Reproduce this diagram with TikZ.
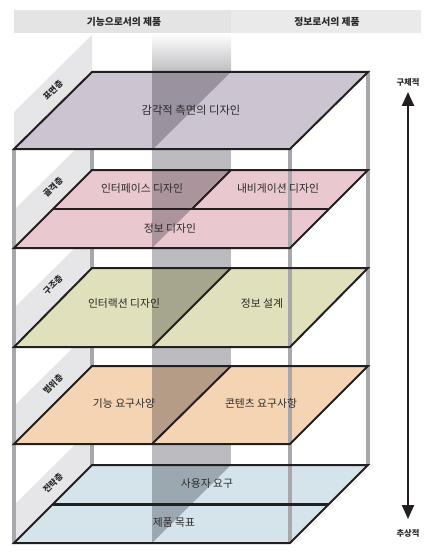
\documentclass[tikz,border=0pt]{standalone}
\usepackage{fontspec}
\setmainfont{Noto Sans CJK KR}
\usetikzlibrary{arrows.meta}
\definecolor{hdrL}{HTML}{E4E4E4}
\definecolor{hdrR}{HTML}{EAEAEA}
\definecolor{colG}{HTML}{BCBCC0}
\definecolor{bandG}{HTML}{E6E6E8}
\definecolor{postG}{HTML}{A8A8AC}
\definecolor{edge}{HTML}{231F20}
\definecolor{txt}{HTML}{2A2A2A}
\definecolor{surf}{HTML}{CDC4D2}
\definecolor{surfD}{HTML}{9A929F}
\definecolor{skel}{HTML}{E9C9CF}
\definecolor{skelD}{HTML}{AC949C}
\definecolor{stru}{HTML}{E1E0BD}
\definecolor{struD}{HTML}{A6A58E}
\definecolor{scop}{HTML}{F4D4B2}
\definecolor{scopD}{HTML}{B49C86}
\definecolor{stra}{HTML}{D4E4EA}
\definecolor{straD}{HTML}{9CA8B0}
\tikzset{
  outline/.style={draw=edge, line width=2pt, line join=miter},
  post/.style={draw=postG, line width=4.5pt},
  lbl/.style={font=\fontsize{10.8}{12}\selectfont, text=txt, inner sep=0pt},
  hdr/.style={font=\fontsize{9.8}{11}\selectfont\bfseries, text=txt, inner sep=0pt},
  layerlbl/.style={font=\fontsize{8.5}{9}\selectfont\bfseries, text=txt, inner sep=0pt, rotate=45},
  sidelbl/.style={font=\fontsize{8.3}{9}\selectfont\bfseries, text=txt, inner sep=0pt},
}
\begin{document}
\begin{tikzpicture}[x=1pt,y=-1pt]
\useasboundingbox (0,0) rectangle (430,559);
\fill[white] (0,0) rectangle (430,559);
% column
\shade[top color=white, bottom color=colG] (152,33) rectangle (231,73);
\fill[colG] (152,72) rectangle (231,543);
% header
\fill[hdrL] (14,10) rectangle (231,33);
\fill[hdrR] (231,10) rectangle (421,33);
\node[hdr] (h1) at (124,22) {기능으로서의 제품};
\node[hdr] (h2) at (327,22) {정보로서의 제품};
% label bands
\foreach \T in {72,170,268,366,465}{
  \fill[bandG] (92,\T-37) -- (92,\T) -- (14,\T+77) -- (14,\T+40) -- cycle;
}
% back posts
\draw[post] (92,72) -- (92,465);
\draw[post] (368,72) -- (368,465);
% planes fills
\fill[surf] (14,149) -- (290,149) -- (368,72) -- (92,72) -- cycle;
\fill[surfD] (152,72) -- (231,72) -- (152,150) -- cycle;
\fill[skel] (14,248) -- (290,248) -- (368,170) -- (92,170) -- cycle;
\fill[skelD] (152,170) -- (231,170) -- (152,248) -- cycle;
\fill[stru] (14,347) -- (290,347) -- (368,268) -- (92,268) -- cycle;
\fill[struD] (152,268) -- (231,268) -- (152,347) -- cycle;
\fill[scop] (14,444) -- (290,444) -- (368,366) -- (92,366) -- cycle;
\fill[scopD] (152,366) -- (231,366) -- (152,444) -- cycle;
\fill[stra] (14,543) -- (290,543) -- (368,465) -- (92,465) -- cycle;
\fill[straD] (152,465) -- (231,465) -- (152,543) -- cycle;
% front posts
\draw[post] (14,149) -- (14,543);
\draw[post] (290,149) -- (290,543);
% outlines
\draw[outline] (14,149) -- (290,149) -- (368,72) -- (92,72) -- cycle;
\draw[outline] (14,248) -- (290,248) -- (368,170) -- (92,170) -- cycle;
\draw[outline, line width=2.5pt] (53,209) -- (328,209);
\draw[outline] (231,170) -- (192,209);
\draw[outline] (14,347) -- (290,347) -- (368,268) -- (92,268) -- cycle;
\draw[outline] (231,268) -- (152,347);
\draw[outline] (14,444) -- (290,444) -- (368,366) -- (92,366) -- cycle;
\draw[outline] (231,366) -- (152,444);
\draw[outline] (14,543) -- (290,543) -- (368,465) -- (92,465) -- cycle;
\draw[outline, line width=3pt] (53,504) -- (329,504);
% texts
\node[lbl, font=\fontsize{11.3}{12}\selectfont] (s1) at (191,110) {감각적 측면의 디자인};
\node[lbl] (k1) at (142,188) {인터페이스 디자인};
\node[lbl] (k2) at (278,188) {내비게이션 디자인};
\node[lbl] (k3) at (170,228) {정보 디자인};
\node[lbl] (r1) at (124,303) {인터랙션 디자인};
\node[lbl] (r2) at (262,303) {정보 설계};
\node[lbl] (c1) at (124,403) {기능 요구사양};
\node[lbl] (c2) at (261,403) {콘텐츠 요구사항};
\node[lbl] (g1) at (207,483) {사용자 요구};
\node[lbl] (g2) at (174,522) {제품 목표};
% layer labels
\node[layerlbl] (l1) at (53,90) {표면층};
\node[layerlbl] (l2) at (53,187) {골격층};
\node[layerlbl] (l3) at (53,285) {구조층};
\node[layerlbl] (l4) at (53,384) {범위층};
\node[layerlbl] (l5) at (53,483) {전략층};
% side arrow
\node[sidelbl] (top) at (408,82) {구체적};
\node[sidelbl] (bot) at (408,533) {추상적};
\coordinate (atop) at (408,92);
\coordinate (abot) at (408,519);
\draw[draw=edge, line width=2.2pt, {Triangle[width=12pt,length=14pt]}-{Triangle[width=12pt,length=14pt]}] (atop) -- (abot);
\end{tikzpicture}
\end{document}
